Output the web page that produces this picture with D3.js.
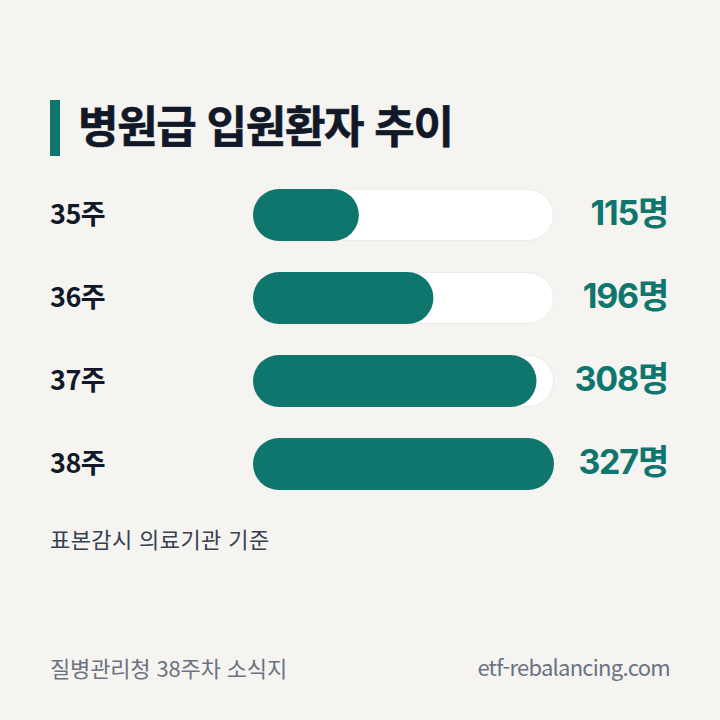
<!DOCTYPE html>
<html lang="ko">
<head>
<meta charset="utf-8">
<script src="https://cdn.jsdelivr.net/npm/d3@7"></script>
<style>
  html, body { margin: 0; padding: 0; background: #f5f4f1; }
  svg { display: block; }
  text { font-family: "Noto Sans CJK KR", sans-serif; }
  .value { font-family: Inter, "Noto Sans CJK KR", sans-serif; }
</style>
</head>
<body>
<div id="chart"></div>
<script>
const weeks = ['35주', '36주', '37주', '38주'];
const patients = [115, 196, 308, 327];
const unit = '명';
const title = '병원급 입원환자 추이';
const note = '표본감시 의료기관 기준';
const source = '질병관리청 38주차 소식지';
const site = 'etf-rebalancing.com';

const size = 720;
const teal = '#0f766e';
const ink = '#111827';

const svg = d3.select('#chart')
    .append('svg')
    .attr('width', size)
    .attr('height', size);

svg.append('rect')
    .attr('width', size)
    .attr('height', size)
    .attr('fill', '#f5f4f1');

// 제목
svg.append('rect')
    .attr('x', 50)
    .attr('y', 100)
    .attr('width', 10)
    .attr('height', 56)
    .attr('fill', teal);

svg.append('text')
    .attr('x', 78)
    .attr('y', 143)
    .attr('font-size', 44)
    .attr('font-weight', 700)
    .attr('letter-spacing', -1.3)
    .attr('fill', ink)
    .attr('stroke', ink)
    .attr('stroke-width', 0.6)
    .text(title);

const x = d3.scaleLinear()
    .domain([0, d3.max(patients)])
    .range([0, 301]);

const y = d3.scaleBand()
    .domain(weeks)
    .range([189, 490])
    .paddingInner(31 / 83)
    .paddingOuter(0);

const rows = svg.selectAll('.row')
    .data(weeks)
    .join('g')
    .attr('class', 'row')
    .attr('transform', d => `translate(0, ${y(d)})`);

rows.append('text')
    .attr('x', 50)
    .attr('y', y.bandwidth() / 2 + 8.5)
    .attr('font-size', 27)
    .attr('font-weight', 700)
    .attr('letter-spacing', -0.5)
    .attr('fill', ink)
    .text(d => d);

rows.append('rect')
    .attr('x', 253.5)
    .attr('y', 0.5)
    .attr('width', 300)
    .attr('height', y.bandwidth() - 1)
    .attr('rx', (y.bandwidth() - 1) / 2)
    .attr('fill', '#ffffff')
    .attr('stroke', '#ecebe8');

rows.append('rect')
    .attr('x', 253)
    .attr('width', (d, i) => x(patients[i]))
    .attr('height', y.bandwidth())
    .attr('rx', y.bandwidth() / 2)
    .attr('fill', teal);

rows.append('text')
    .attr('class', 'value')
    .attr('x', 668)
    .attr('y', y.bandwidth() / 2 + 10)
    .attr('text-anchor', 'end')
    .attr('font-size', 34)
    .attr('font-weight', 700)
    .attr('letter-spacing', -1.2)
    .attr('fill', teal)
    .text((d, i) => patients[i] + unit);

svg.append('text')
    .attr('x', 50)
    .attr('y', 548)
    .attr('font-size', 22)
    .attr('letter-spacing', 0.4)
    .attr('fill', '#374151')
    .text(note);

svg.append('text')
    .attr('x', 50)
    .attr('y', 677)
    .attr('font-size', 22)
    .attr('letter-spacing', -0.15)
    .attr('fill', '#6b7280')
    .text(source);

svg.append('text')
    .attr('x', 670)
    .attr('y', 676)
    .attr('text-anchor', 'end')
    .attr('font-size', 22)
    .attr('letter-spacing', -0.75)
    .attr('fill', '#6b7280')
    .text(site);
</script>
</body>
</html>
